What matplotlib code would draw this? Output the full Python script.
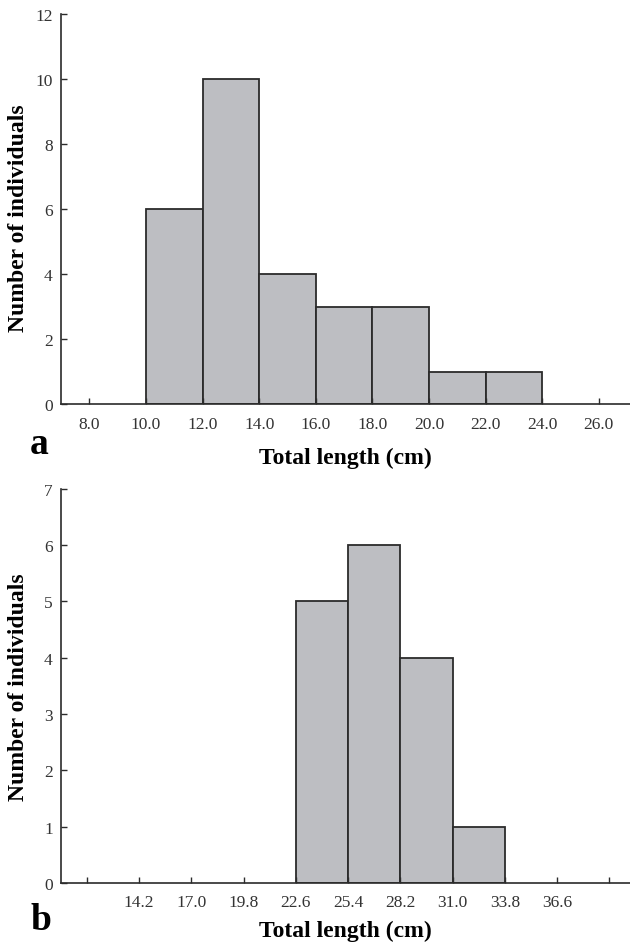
import matplotlib
matplotlib.use("Agg")
import matplotlib.pyplot as plt
import numpy as np

# Panel a data
a_edges = [10.0, 12.0, 14.0, 16.0, 18.0, 20.0, 22.0, 24.0]
a_counts = [6, 10, 4, 3, 3, 1, 1]
a_ticks = [8.0, 10.0, 12.0, 14.0, 16.0, 18.0, 20.0, 22.0, 24.0, 26.0]
a_yticks = [0, 2, 4, 6, 8, 10, 12]

# Panel b data
b_edges = [22.6, 25.4, 28.2, 31.0, 33.8]
b_counts = [5, 6, 4, 1]
b_ticks = [11.4, 14.2, 17.0, 19.8, 22.6, 25.4, 28.2, 31.0, 33.8, 36.6, 39.4]
b_ticklabels = ["", "14.2", "17.0", "19.8", "22.6", "25.4", "28.2", "31.0", "33.8", "36.6", ""]
b_yticks = [0, 1, 2, 3, 4, 5, 6, 7]

plt.rcParams['font.family'] = ['Liberation Serif', 'DejaVu Serif']

fig = plt.figure(figsize=(6.3, 9.45), dpi=100)
ax1 = fig.add_axes([0.097, 0.571, 0.903, 0.413])
ax2 = fig.add_axes([0.097, 0.0646, 0.903, 0.417])

bar_color = '#bdbec2'
edge = '#2b2b2b'
txt = '#333333'

def style(ax):
    for s in ['top', 'right']:
        ax.spines[s].set_visible(False)
    for s in ['left', 'bottom']:
        ax.spines[s].set_color(edge)
        ax.spines[s].set_linewidth(1.2)
    ax.tick_params(axis='both', direction='in', length=4, width=1, color=edge,
                   labelsize=12.5, labelcolor=txt)
    ax.tick_params(axis='x', pad=8)
    ax.tick_params(axis='y', pad=6)

# Panel a
w = np.diff(a_edges)
ax1.bar(a_edges[:-1], a_counts, width=w, align='edge', color=bar_color,
        edgecolor=edge, linewidth=1.3)
ax1.set_xlim(7.0, 27.1)
ax1.set_ylim(0, 12)
ax1.set_xticks(a_ticks)
ax1.set_xticklabels([f"{t:.1f}" for t in a_ticks])
ax1.set_yticks(a_yticks)
style(ax1)
ax1.set_xlabel("Total length (cm)", fontsize=17, fontweight='bold', labelpad=11)
fig.text(0.030, 1 - 218 / 945, "Number of individuals", fontsize=17, fontweight='bold',
         rotation=90, ha='center', va='center')
fig.text(0.048, 0.530, "a", fontsize=27, fontweight='bold', ha='left', va='center')

# Panel b
w = np.diff(b_edges)
ax2.bar(b_edges[:-1], b_counts, width=w, align='edge', color=bar_color,
        edgecolor=edge, linewidth=1.3)
ax2.set_xlim(10.03, 40.5)
ax2.set_ylim(0, 7)
ax2.set_xticks(b_ticks)
ax2.set_xticklabels(b_ticklabels)
ax2.set_yticks(b_yticks)
style(ax2)
ax2.set_xlabel("Total length (cm)", fontsize=17, fontweight='bold', labelpad=7)
fig.text(0.030, 1 - 687 / 945, "Number of individuals", fontsize=17, fontweight='bold',
         rotation=90, ha='center', va='center')
fig.text(0.048, 0.026, "b", fontsize=27, fontweight='bold', ha='left', va='center')

fig.savefig("out.png", dpi=100)
